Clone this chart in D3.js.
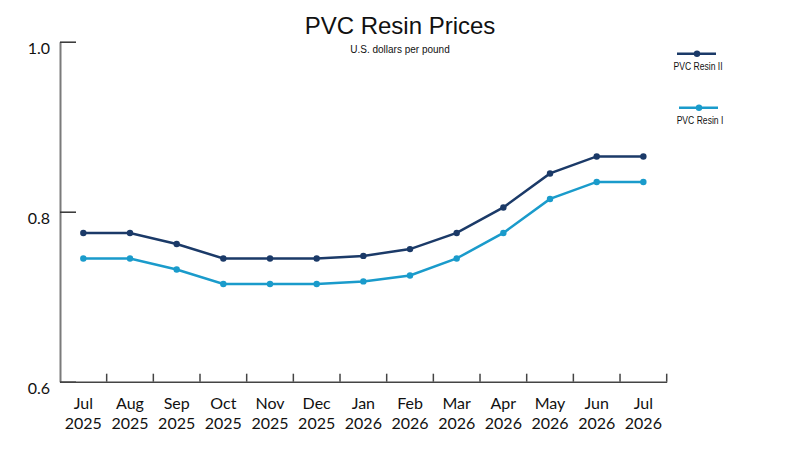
<!DOCTYPE html>
<html>
<head>
<meta charset="utf-8">
<script src="https://cdn.jsdelivr.net/npm/d3@7"></script>
<style>
  body { margin: 0; background: #fff; }
  svg { display: block; }
</style>
</head>
<body>
<div id="chart"></div>
<script>
// Monate (Kategorien) und Werte in US-Dollar pro Pfund
const months = ['Jul', 'Aug', 'Sep', 'Oct', 'Nov', 'Dec', 'Jan', 'Feb', 'Mar', 'Apr', 'May', 'Jun', 'Jul'];
const years  = ['2025', '2025', '2025', '2025', '2025', '2025', '2026', '2026', '2026', '2026', '2026', '2026', '2026'];
const resin2 = [0.775, 0.775, 0.762, 0.745, 0.745, 0.745, 0.748, 0.756, 0.775, 0.805, 0.845, 0.865, 0.865];
const resin1 = [0.745, 0.745, 0.732, 0.715, 0.715, 0.715, 0.718, 0.725, 0.745, 0.775, 0.815, 0.835, 0.835];
const yTicks = [0.6, 0.8, 1.0];

const seriesList = [
  { name: 'PVC Resin II', values: resin2, color: '#1b3a68' },
  { name: 'PVC Resin I',  values: resin1, color: '#1a9bcb' }
];

const width = 800, height = 450;
const plotLeft = 60, plotRight = 666.7, plotTop = 41.7, plotBottom = 381.7;

const svg = d3.select('#chart').append('svg')
  .attr('width', width)
  .attr('height', height);

// Skalen
const keys = months.map((m, i) => i);
const x = d3.scaleBand().domain(keys).range([plotLeft, plotRight]).padding(0);
const y = d3.scaleLinear().domain([0.6, 1.0]).range([plotBottom, plotTop]);
const cx = i => x(i) + x.bandwidth() / 2;

// Titel
svg.append('text')
  .attr('x', 400).attr('y', 34)
  .attr('text-anchor', 'middle')
  .style('font-family', '"Liberation Sans", Arial, sans-serif')
  .style('font-size', '24px')
  .style('fill', '#111')
  .text('PVC Resin Prices');

svg.append('text')
  .attr('x', 400).attr('y', 53)
  .attr('text-anchor', 'middle')
  .style('font-family', '"Liberation Sans", Arial, sans-serif')
  .style('font-size', '10px')
  .style('fill', '#111')
  .text('U.S. dollars per pound');

// Y-Achse
const yAxis = svg.append('g')
  .attr('transform', `translate(${plotLeft},0)`)
  .call(d3.axisLeft(y).tickValues(yTicks).tickSizeInner(-16).tickSizeOuter(0).tickPadding(10)
    .tickFormat(d3.format('.1f')));
yAxis.select('.domain').attr('stroke', '#7a7a7a').attr('stroke-width', 2);
yAxis.selectAll('.tick line').attr('stroke', '#333').attr('stroke-width', 1.5);
yAxis.selectAll('.tick text')
  .attr('dy', '0.72em')
  .style('font-family', 'Lato, sans-serif')
  .style('font-size', '16px')
  .style('fill', '#111');

// X-Achse (Beschriftung in der Bandmitte)
const xAxis = svg.append('g')
  .attr('transform', `translate(0,${plotBottom})`)
  .call(d3.axisBottom(x).tickSize(0).tickPadding(0).tickFormat(() => ''));
xAxis.select('.domain').attr('stroke', '#444').attr('stroke-width', 1.5);

xAxis.selectAll('.tick text').each(function (i) {
  const t = d3.select(this).attr('y', 0).attr('dy', null);
  t.append('tspan').attr('x', 0).attr('y', 27).text(months[i]);
  t.append('tspan').attr('x', 0).attr('y', 47).text(years[i]);
})
  .style('font-family', 'Lato, sans-serif')
  .style('font-size', '16px')
  .style('fill', '#111');

// Trennstriche zwischen den Monaten
xAxis.selectAll('.sep')
  .data(keys)
  .enter().append('line')
  .attr('class', 'sep')
  .attr('x1', i => x(i) + x.bandwidth())
  .attr('x2', i => x(i) + x.bandwidth())
  .attr('y1', 0)
  .attr('y2', -8)
  .attr('stroke', '#444')
  .attr('stroke-width', 1.5);

// Linien und Punkte
const line = d3.line()
  .x((d, i) => cx(i))
  .y(d => y(d));

seriesList.forEach(s => {
  svg.append('path')
    .datum(s.values)
    .attr('d', line)
    .attr('fill', 'none')
    .attr('stroke', s.color)
    .attr('stroke-width', 2.5);

  svg.append('g').selectAll('circle')
    .data(s.values)
    .enter().append('circle')
    .attr('cx', (d, i) => cx(i))
    .attr('cy', d => y(d))
    .attr('r', 3.2)
    .attr('fill', s.color);
});

// Legende
const legend = svg.append('g');
const legendItem = legend.selectAll('.legend-item')
  .data(seriesList)
  .enter().append('g')
  .attr('class', 'legend-item')
  .attr('transform', (d, i) => `translate(${697 + i * 2}, ${53.7 + i * 54})`);

legendItem.append('line')
  .attr('x1', -20).attr('x2', 19)
  .attr('stroke', d => d.color)
  .attr('stroke-width', 2.5);

legendItem.append('circle')
  .attr('r', 3.2)
  .attr('fill', d => d.color);

// schmale Schrift nachbilden: horizontal gestaucht
legendItem.append('text')
  .attr('transform', 'translate(1,16) scale(0.78,1)')
  .attr('text-anchor', 'middle')
  .style('font-family', '"Liberation Sans", Arial, sans-serif')
  .style('font-size', '11px')
  .style('fill', '#111')
  .text(d => d.name);
</script>
</body>
</html>
